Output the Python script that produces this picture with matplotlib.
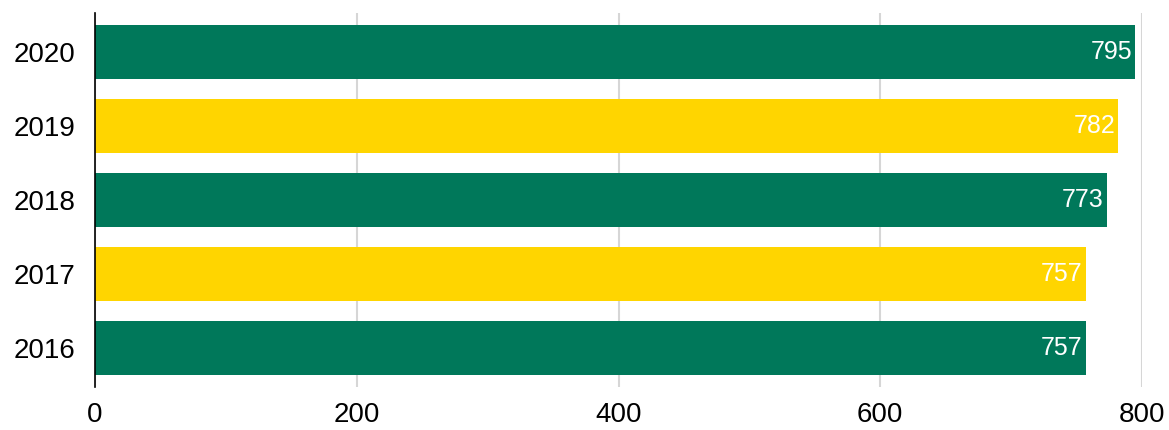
import matplotlib
matplotlib.use("Agg")
import matplotlib.pyplot as plt

years = ["2016", "2017", "2018", "2019", "2020"]
values = [757, 757, 773, 782, 795]
colors = ["#00785A", "#FFD500", "#00785A", "#FFD500", "#00785A"]
xticks = [0, 200, 400, 600, 800]

plt.rcParams['font.family'] = ['Liberation Sans', 'DejaVu Sans']

fig = plt.figure(figsize=(11.69, 4.30), dpi=100)
ax = fig.add_axes([95/1169, 1-386.5/430, (1142-95)/1169, (386.5-12.5)/430])

pos = list(range(len(years)))
bars = ax.barh(pos, values, height=0.73, color=colors, zorder=2)
for p, v in zip(pos, values):
    ax.text(v - 2.5, p, str(v), color="white", ha="right", va="center", fontsize=18, zorder=3)

ax.set_xlim(0, 800)
ax.set_ylim(-0.52, 4.534)
ax.set_yticks(pos)
ax.set_yticklabels(years, fontsize=20)
ax.set_xticks(xticks)
ax.set_xticklabels([str(t) for t in xticks], fontsize=20)
ax.tick_params(axis='both', length=0)
ax.tick_params(axis='y', pad=14)
ax.tick_params(axis='x', pad=11)
ax.xaxis.grid(True, color="#d6d6d6", linewidth=1.5, zorder=0)
ax.set_axisbelow(True)
for s in ["top", "right", "bottom"]:
    ax.spines[s].set_visible(False)
ax.spines["left"].set_color("black")
ax.spines["left"].set_linewidth(1.2)
ax.spines["left"].set_zorder(4)

fig.savefig("out.png", dpi=100)
